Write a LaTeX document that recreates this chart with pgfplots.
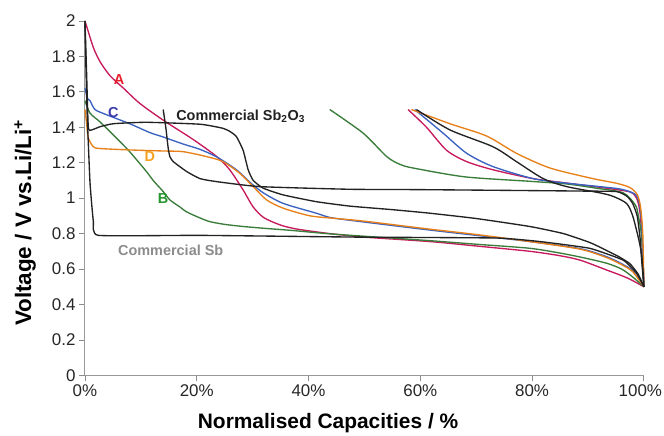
\documentclass[border=0pt]{standalone}
\usepackage{fontspec}
\setmainfont{Liberation Sans}
\usepackage{pgfplots}
\pgfplotsset{compat=1.18}
\definecolor{cA}{HTML}{C61A5C}
\definecolor{cB}{HTML}{3A7D3A}
\definecolor{cC}{HTML}{3A62C0}
\definecolor{cD}{HTML}{E8801A}
\definecolor{cK}{HTML}{222222}
\definecolor{lA}{HTML}{E8202A}
\definecolor{lB}{HTML}{22962A}
\definecolor{lC}{HTML}{3B3BAA}
\definecolor{lD}{HTML}{F5A020}
\definecolor{lG}{HTML}{8C8C8C}
\begin{document}
\begin{tikzpicture}
\begin{axis}[
  scale only axis, width=559bp, height=354.5bp,
  xmin=0, xmax=100, ymin=0, ymax=2,
  axis lines=left,
  axis line style={-, draw=black!40, line width=1bp},
  tick style={draw=black!45, line width=0.8bp},
  tick align=outside, major tick length=6bp,
  xtick={0,20,40,60,80,100},
  xticklabels={0\%,20\%,40\%,60\%,80\%,100\%\kern7bp},
  ytick={0,0.2,0.4,0.6,0.8,1,1.2,1.4,1.6,1.8,2},
  yticklabels={0,0.2,0.4,0.6,0.8,1,1.2,1.4,1.6,1.8,2},
  ticklabel style={font=\fontsize{17}{20}\selectfont, text=black!85},
  xlabel={Normalised Capacities / \%},
  ylabel={Voltage / V vs.Li/Li\textsuperscript{+}},
  xlabel style={font=\bfseries\fontsize{21}{24}\selectfont, at={(axis cs:43.5,-0.268)}, anchor=center},
  ylabel style={font=\bfseries\fontsize{22.5}{24}\selectfont, at={(axis cs:-10.7,0.86)}, anchor=center, rotate=0},
  every axis plot/.append style={line width=1.35bp, no marks, smooth, tension=0.45},
  clip=false,
]
% A
\addplot[cA] coordinates {(0,2.0) (0.3,1.97) (1.5,1.85) (2.7,1.77) (4.5,1.69) (6.9,1.62) (9.8,1.535) (14,1.44) (19.4,1.33) (23.6,1.234) (25.9,1.16) (28.3,1.046) (30.1,0.95) (32,0.89) (35,0.848) (38,0.825) (43.8,0.80) (50,0.78) (61.7,0.755) (70,0.73) (79.6,0.70) (85,0.675) (88.6,0.65) (93.3,0.595) (97,0.55) (100,0.5)};
\addplot[cA] coordinates {(100,0.5) (99.7,0.75) (99.3,0.92) (98.7,1.0) (97.5,1.035) (93.3,1.056) (86.2,1.085) (80.2,1.11) (73,1.16) (68.3,1.206) (64.7,1.27) (61.1,1.40) (57.8,1.50)};
% B
\addplot[cB] coordinates {(0,1.55) (0.9,1.48) (2.7,1.43) (5.1,1.356) (8,1.262) (11,1.15) (12.2,1.10) (14,1.037) (15.2,0.99) (17,0.95) (18.2,0.922) (20.6,0.888) (22.4,0.867) (25,0.852) (28.3,0.84) (32,0.83) (37.3,0.817) (43.2,0.80) (50,0.785) (61.7,0.76) (70,0.74) (79.6,0.717) (85,0.69) (89,0.665) (93.3,0.633) (96,0.6) (98,0.555) (100,0.5)};
\addplot[cB] coordinates {(100,0.5) (99.6,0.78) (99,0.9) (98.5,0.96) (96.3,1.03) (91.5,1.056) (86.2,1.08) (79.6,1.095) (68,1.12) (58.7,1.17) (56.4,1.19) (54,1.234) (49.8,1.366) (43.8,1.50)};
% C
\addplot[cC] coordinates {(0,1.62) (0.5,1.56) (0.9,1.55) (1.8,1.50) (3.9,1.47) (8,1.42) (11.6,1.37) (14,1.345) (17.6,1.305) (20.6,1.275) (23.6,1.232) (27.1,1.16) (29.5,1.09) (31.9,1.03) (35.5,0.97) (41.4,0.915) (44,0.89) (50,0.865) (61.7,0.82) (70,0.79) (79.6,0.755) (88.6,0.715) (93.3,0.67) (96,0.63) (98,0.59) (100,0.5)};
\addplot[cC] coordinates {(100,0.5) (99.7,0.8) (99.3,0.95) (98.5,1.02) (96,1.05) (92.1,1.065) (86,1.085) (80.2,1.11) (73,1.178) (68.3,1.253) (64.1,1.366) (59,1.50)};
% D
\addplot[cD] coordinates {(0,1.5) (0.3,1.42) (0.6,1.34) (1.5,1.29) (2.7,1.28) (8,1.272) (14,1.266) (17.6,1.262) (21.8,1.234) (24.7,1.206) (27.7,1.14) (30.1,1.065) (32.5,0.99) (35.5,0.943) (40.3,0.90) (45,0.885) (50,0.87) (61.7,0.825) (70,0.795) (79.6,0.755) (88.6,0.712) (93.3,0.665) (96,0.625) (98,0.585) (100,0.5)};
\addplot[cD] coordinates {(100,0.5) (99.8,0.8) (99.4,0.95) (98.8,1.02) (97.5,1.06) (95.1,1.084) (90.9,1.11) (83.2,1.17) (77.2,1.253) (71.9,1.35) (65.3,1.42) (58.4,1.50)};
% Commercial Sb2O3
\addplot[cK, tension=0.3] coordinates {(0,2.0) (0.3,1.7) (0.6,1.40) (1.2,1.385) (2.7,1.403) (5.1,1.42) (11,1.428) (20.6,1.417) (24.7,1.394) (26,1.375) (27.1,1.347) (28.3,1.27) (29.2,1.16) (30.1,1.10) (31.9,1.056) (35.5,1.018) (41.4,0.98) (47.4,0.955) (55,0.935) (61.7,0.915) (70,0.885) (79.6,0.84) (85.6,0.80) (90.3,0.75) (93,0.71) (95.5,0.67) (97.5,0.63) (99,0.57) (100,0.5)};
\addplot[cK] coordinates {(100,0.5) (99.7,0.65) (99.2,0.75) (98,0.9) (96.9,0.97) (94.5,1.01) (92.1,1.03) (86.2,1.065) (82,1.11) (77.2,1.206) (73,1.29) (65.3,1.385) (59.3,1.50)};
% Commercial Sb
\addplot[cK, tension=0.25] coordinates {(0,2.0) (0.2,1.7) (0.4,1.47) (0.9,1.09) (1.5,0.87) (2.4,0.79) (20.6,0.79) (49.2,0.78) (73.6,0.775) (81.4,0.755) (90.3,0.717) (96.3,0.65) (98.7,0.576) (100,0.5)};
\addplot[cK, tension=0.3] coordinates {(100,0.5) (99.6,0.65) (99.3,0.78) (98.8,0.9) (98,0.97) (97,1.01) (95.1,1.037) (88.6,1.04) (60,1.048) (47.4,1.05) (31.3,1.065) (23.6,1.093) (20.6,1.11) (18.2,1.15) (15.8,1.206) (15.2,1.234) (14.9,1.28) (14.5,1.39) (14,1.50)};
\begin{scope}[every node/.style={font=\bfseries\fontsize{14.5}{16}\selectfont, inner sep=0pt}]
\node[text=lA] at (axis cs:6.1,1.672) {A};
\node[text=lC] at (axis cs:5.1,1.485) {C};
\node[text=lD] at (axis cs:11.6,1.234) {D};
\node[text=lB] at (axis cs:14,1.0) {B};
\node[text=cK, anchor=west] at (axis cs:16.3,1.46) {Commercial Sb\textsubscript{2}O\textsubscript{3}};
\node[text=lG, anchor=west] at (axis cs:5.9,0.708) {Commercial Sb};
\end{scope}
\coordinate (bl) at (axis cs:-15.2,-0.341);
\coordinate (tr) at (axis cs:103.6,2.118);
\end{axis}
\pgfresetboundingbox
\useasboundingbox (bl) rectangle (tr);
\end{tikzpicture}
\end{document}
